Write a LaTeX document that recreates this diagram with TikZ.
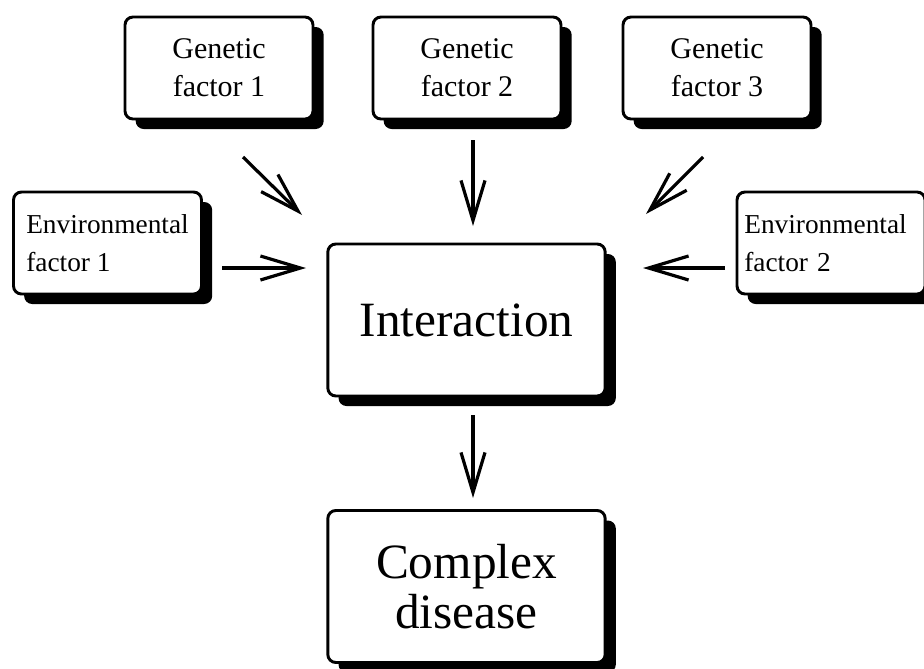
\documentclass[tikz,border=0pt]{standalone}
\usepackage{fontspec}
\setmainfont{Liberation Serif}
\usetikzlibrary{arrows.meta,shadows}
\begin{document}
\begin{tikzpicture}[x=0.75pt,y=-0.75pt,
  box/.style={draw=black, line width=2.2pt, fill=white, rounded corners=6pt,
    general shadow={fill=black, shadow xshift=8pt, shadow yshift=-7.5pt}},
  smallbox/.style={box, minimum width=141pt, minimum height=76.5pt, inner sep=0pt},
  bigbox/.style={box, minimum width=208pt, minimum height=114pt, inner sep=0pt},
  gtext/.style={font=\fontsize{22.5}{28.5}\selectfont, align=center},
  etext/.style={font=\fontsize{20.5}{28.5}\selectfont, align=left},
  btext/.style={font=\fontsize{37}{37}\selectfont, align=center},
  arr/.style={line width=2.4pt, -{Straight Barb[length=30pt,width=18pt,line width=0pt 1]}}
]
\useasboundingbox (0,0) rectangle (924,668);

\node[smallbox, gtext] (g1) at (219,68) {Genetic\\factor 1};
\node[smallbox, gtext] (g2) at (467,68) {Genetic\\factor 2};
\node[smallbox, gtext] (g3) at (717,68) {Genetic\\factor 3};
\node[smallbox, etext] (e1) at (107.5,243) {Environmental\\factor 1};
\node[smallbox, etext, text width=130pt] (e2) at (831,243) {Environmental\\factor 2};
\node[bigbox, btext] (int) at (466.5,320) {Interaction};
\node[bigbox, btext] (cd) at (466.5,586.5) {Complex\\disease};

\coordinate (g1s) at (243,157);  \coordinate (g1t) at (302,215);
\coordinate (g2s) at (473,140);  \coordinate (g2t) at (473,226);
\coordinate (g3s) at (703,157);  \coordinate (g3t) at (646,214);
\coordinate (e1s) at (222,268);  \coordinate (e1t) at (306,268);
\coordinate (e2s) at (725,268);  \coordinate (e2t) at (643,268);
\coordinate (is)  at (473,415);  \coordinate (it)  at (473,498);

\draw[arr] (g1s) -- (g1t);
\draw[arr] (g2s) -- (g2t);
\draw[arr] (g3s) -- (g3t);
\draw[arr] (e1s) -- (e1t);
\draw[arr] (e2s) -- (e2t);
\draw[arr] (is) -- (it);
\end{tikzpicture}
\end{document}
